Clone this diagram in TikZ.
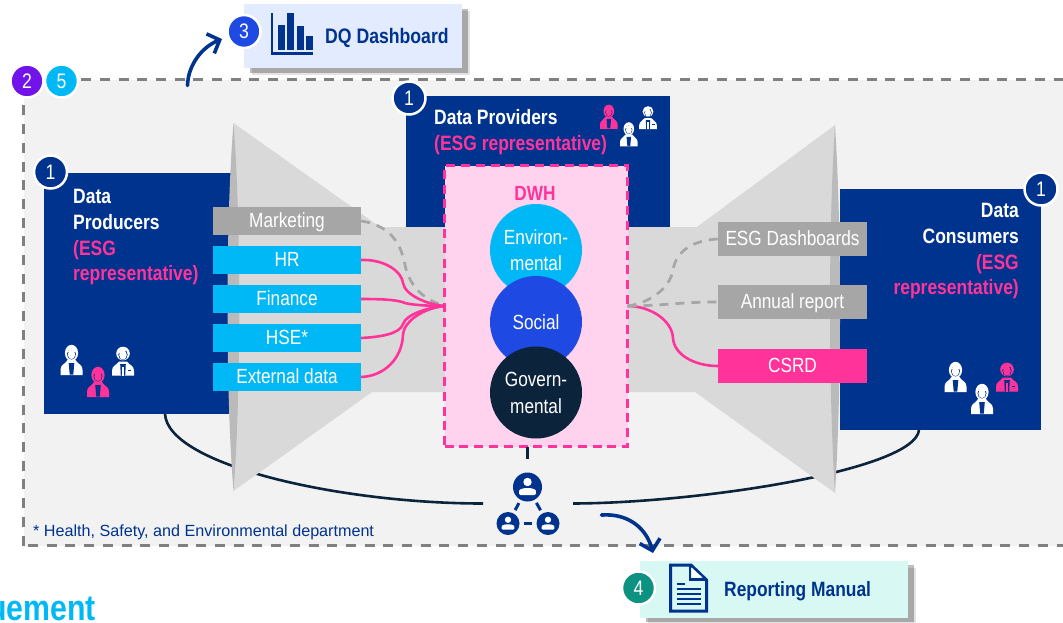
\documentclass[tikz,border=0pt]{standalone}
\usepackage{fontspec}
\setmainfont[FakeStretch=0.84]{Liberation Sans}
\newfontfamily\notefont{Liberation Sans}
\usepackage{xcolor}
\usetikzlibrary{arrows.meta,positioning,calc,shapes,backgrounds,shadows}

\definecolor{navy}{HTML}{00338D}
\definecolor{skyc}{HTML}{00B8F5}
\definecolor{hotp}{HTML}{FF3399}
\definecolor{midg}{HTML}{A6A6A6}
\definecolor{bandg}{HTML}{D9D9D9}
\definecolor{leng}{HTML}{BABABA}
\definecolor{paleg}{HTML}{F2F2F2}
\definecolor{inkb}{HTML}{0C233C}
\definecolor{royal}{HTML}{1E49E2}
\definecolor{violet2}{HTML}{7213EA}
\definecolor{teal2}{HTML}{0C9280}
\definecolor{pinkbg}{HTML}{FFD3EE}
\definecolor{dqbg}{HTML}{E3ECFE}
\definecolor{manbg}{HTML}{D8F8F3}

\newcommand{\fnt}[1]{\fontsize{#1}{#1}\selectfont}

\tikzset{
    pics/womanicon/.style={code={
        \fill[#1] (0,8) ellipse (6.6 and 8.2);
        \fill[navy] (0,9.2) ellipse (4.5 and 5.4);
        \fill[#1] (0,9.5) ellipse (3.7 and 4.6);
        \fill[#1] (-4.5,7) .. controls (-2,2.5) and (3,2.5) .. (4.5,7) -- (0,6.5) -- cycle;
        \fill[#1] (-11,30) -- (-11,24.5) .. controls (-11,19.5) and (-6,19) .. (-4,15) -- (4,15) .. controls (6,19) and (11,19.5) .. (11,24.5) -- (11,30) -- cycle;
        \fill[navy] (-2.8,18) -- (2.8,18) -- (1.8,29.5) -- (-1.8,29.5) -- cycle;
    }},
    pics/manicon/.style={code={
        \fill[#1] (0,7.5) circle (6.8);
        \fill[navy] (0,8.6) ellipse (4.7 and 5.6);
        \fill[#1] (0,9) ellipse (3.8 and 4.7);
        \fill[#1] (-4.6,7.5) .. controls (-2,7) and (2,6) .. (3.5,4) -- (4.8,8) -- (4,2) -- (-3,2) -- cycle;
        \fill[#1] (-11,29.5) -- (-11,24.5) .. controls (-11,19.5) and (-6,19) .. (-4,15.5) -- (4,15.5) .. controls (6,19) and (11,19.5) .. (11,24.5) -- (11,29.5) -- cycle;
        \fill[navy] (-2.8,18) -- (2.8,18) -- (2.2,29.5) -- (-2.2,29.5) -- cycle;
        \fill[#1] (-0.9,20.5) rectangle (0.9,29.5);
        \fill[navy] (5.2,23.5) rectangle (8.2,24.3);
    }},
    pics/netuser/.style={code={
        \fill[white] (0,-5*#1) circle (4.2*#1);
        \fill[white,rounded corners=1.5*#1] (-8.5*#1,8*#1) -- (-8.5*#1,5*#1) .. controls (-8*#1,2*#1) and (-3*#1,1*#1) .. (0,1*#1) .. controls (3*#1,1*#1) and (8*#1,2*#1) .. (8.5*#1,5*#1) -- (8.5*#1,8*#1) -- cycle;
    }},
    badge/.style={circle, draw=white, line width=2.5pt, minimum size=33pt, inner sep=0pt, text=white, font=\fnt{21}},
    bluebox/.style={fill=navy, draw=none, inner sep=0pt, anchor=north west},
    lbl/.style={minimum width=148pt, minimum height=28pt, inner sep=0pt, text=white, text height=16pt, text depth=4pt, font=\fnt{20.5}},
    lblr/.style={minimum width=149pt, minimum height=34pt, inner sep=0pt, text=white, text height=16pt, text depth=4pt, font=\fnt{20.5}},
    ball/.style={circle, minimum size=92pt, inner sep=0pt, text=white, align=center, font=\fnt{20.5}},
    txt/.style={inner sep=0pt, font=\fnt{20.8}\bfseries, text=white},
    pinkline/.style={draw=hotp, line width=2.6pt},
    greydash/.style={draw=midg, line width=2.7pt, dash pattern=on 9pt off 7pt},
    darkline/.style={draw=inkb, line width=2.6pt},
    bigarrow/.style={draw=navy, line width=3.6pt, line cap=round, -{Straight Barb[length=10pt,width=21pt]}},
    softshadow/.style={drop shadow={shadow xshift=8pt, shadow yshift=-7pt, fill=black, opacity=0.11}, drop shadow={shadow xshift=5.5pt, shadow yshift=-4.5pt, fill=black, opacity=0.26}},
}

\begin{document}
\begin{tikzpicture}[x=1pt, y=-1pt]
    \useasboundingbox (0,0) rectangle (1063,622);
    \clip (0,0) rectangle (1063,622);

    % Dashed frame
    \fill[paleg] (23.5,79.5) rectangle (1080,545.5);
    \draw[draw=black!50, line width=2.5pt, dash pattern=on 10pt off 8.7pt] (23.5,545.5) -- (23.5,79.5) -- (1080,79.5);
    \draw[draw=black!50, line width=2.5pt, dash pattern=on 10pt off 8.7pt] (28,545.5) -- (1080,545.5);

    % Blue boxes
    \node[bluebox, minimum width=187pt, minimum height=241pt] (producers) at (44,173) {};
    \node[bluebox, minimum width=264pt, minimum height=135pt] (providers) at (406,96) {};
    \node[bluebox, minimum width=201pt, minimum height=241pt] (consumers) at (840,189) {};

    % Governance curve
    \coordinate (curveA) at (165,414);
    \coordinate (curveB) at (483,503.5);
    \coordinate (curveC) at (573,503.5);
    \coordinate (curveD) at (919,430);
    \draw[darkline] (curveA) .. controls (168,465) and (340,503.5) .. (curveB);
    \draw[darkline] (curveC) .. controls (700,503) and (915,470) .. (curveD);

    % Funnels
    \fill[bandg] (233.5,123) -- (380,227) -- (697,227) -- (835,125) -- (835,493) -- (695,392) -- (372,392) -- (233.5,491) -- cycle;
    \fill[leng] (233.5,123) .. controls (225.5,220) and (225.5,395) .. (233.5,491) .. controls (241.2,395) and (241.2,220) .. cycle;
    \fill[leng] (835,125) .. controls (828.3,230) and (828.3,385) .. (835,493) .. controls (841.7,385) and (841.7,230) .. cycle;

    % DWH
    \node[fill=pinkbg, draw=hotp, line width=2.8pt, dash pattern=on 9pt off 5.8pt, inner sep=0pt, outer sep=0pt, minimum width=183pt, minimum height=281pt, anchor=north west] (dwh) at (444.5,165.5) {};
    \node[text=hotp, font=\fnt{20.5}\bfseries, inner sep=0pt] (dwhtitle) at (535,193) {DWH};
    \node[ball, fill=skyc] (environ) at (536,250) {Environ-\\[5pt]mental};
    \node[ball, fill=royal] (social) at (536,322) {Social};
    \node[ball, fill=inkb] (govern) at (536,392.5) {Govern-\\[6.5pt]mental};

    % Left labels
    \node[lbl, fill=midg] (marketing) at (287,221) {Marketing};
    \node[lbl, fill=skyc] (hr) at (287,260) {HR};
    \node[lbl, fill=skyc] (finance) at (287,299) {Finance};
    \node[lbl, fill=skyc] (hse) at (287,338) {HSE*};
    \node[lbl, fill=skyc] (external) at (287,377) {External data};

    % Right labels
    \node[lblr, fill=midg] (dashboards) at (792.5,239) {ESG Dashboards};
    \node[lblr, fill=midg] (annual) at (792.5,302) {Annual report};
    \node[lblr, fill=hotp] (csrd) at (792.5,366) {CSRD};

    % Flows
    \coordinate (dwhin) at (444.5,306);
    \coordinate (dwhout) at (627.5,306);
    \draw[greydash] (marketing.east) .. controls (395,226) and (402,250) .. (405,265) .. controls (410,288) and (425,300) .. (dwhin);
    \draw[pinkline] (hr.east) .. controls (385,259) and (402,272) .. (403,283) .. controls (405,296) and (430,305) .. (dwhin);
    \draw[pinkline] (finance.east) .. controls (385,299) and (398,300) .. (405,303) .. controls (412,305) and (430,306) .. (dwhin);
    \draw[pinkline] (hse.east) .. controls (380,337) and (400,334) .. (403,324) .. controls (406,314) and (430,307) .. (dwhin);
    \draw[pinkline] (external.east) .. controls (385,376) and (402,358) .. (403,335) .. controls (404,320) and (425,308) .. (dwhin);
    \draw[pinkline] (dwhout) .. controls (650,306) and (672,320) .. (673,338) .. controls (674,355) and (695,366) .. (csrd.west);
    \draw[greydash] (dwhout) .. controls (650,303) and (670,288) .. (673,270) .. controls (676,250) and (695,240) .. (dashboards.west);
    \draw[greydash] (dwhout) .. controls (660,306) and (680,302) .. (annual.west);

    % Box texts
    \node[txt, align=left, anchor=north west] (prodtext) at (73,189) {Data\\[5pt]Producers\\[5pt]\textcolor{hotp}{(ESG}\\[5pt]\textcolor{hotp}{representative)}};
    \node[txt, align=left, anchor=north west] (provtext) at (434,109.5) {Data Providers\\[5pt]\textcolor{hotp}{(ESG representative)}};
    \node[txt, align=right, anchor=north east] (constext) at (1019,203) {Data\\[5pt]Consumers\\[5pt]\textcolor{hotp}{(ESG}\\[5pt]\textcolor{hotp}{representative)}};

    % People
    \pic at (71.5,345) {womanicon=white};
    \pic at (123,346) {manicon=white};
    \pic at (98,367) {womanicon=hotp};
    \begin{scope}[x=0.8pt, y=-0.8pt]
        \pic at (761,131) {womanicon=hotp};
        \pic at (810,132) {manicon=white};
        \pic at (786,153) {womanicon=white};
    \end{scope}
    \pic at (955.5,362) {womanicon=white};
    \pic at (1007,362) {manicon=hotp};
    \pic at (982,384) {womanicon=white};

    % Badges
    \node[badge, fill=violet2] (two) at (27,81) {2};
    \node[badge, fill=skyc] (five) at (61.5,81) {5};
    \node[badge, fill=navy] (oneprod) at (50.5,172) {1};
    \node[badge, fill=navy] (oneprov) at (409,98) {1};
    \node[badge, fill=navy] (onecons) at (1041,189) {1};

    % DQ dashboard
    \node[fill=dqbg, minimum width=218pt, minimum height=64pt, inner sep=0pt, anchor=north west, softshadow] (dqbox) at (244,4) {};
    \node[badge, fill=royal] (three) at (244,31.5) {3};
    \fill[navy] (278,25) rectangle (285,49.5);
    \fill[navy] (287,13) rectangle (294,49.5);
    \fill[navy] (297,26) rectangle (304,49.5);
    \fill[navy] (306,36) rectangle (313,49.5);
    \draw[draw=navy, line width=2.6pt] (272,13) -- (272,53.5) -- (313,53.5);
    \node[text=navy, font=\fnt{21}\bfseries, inner sep=0pt, anchor=base west] (dqtext) at (325,43) {DQ Dashboard};
    \coordinate (dqfrom) at (187.5,85.5);
    \coordinate (dqto) at (222,39);
    \draw[bigarrow] (dqfrom) .. controls (188,65) and (202,47) .. (dqto);

    % Network
    \node[circle, fill=navy, minimum size=29pt, inner sep=0pt] (nettop) at (527.5,487) {};
    \node[circle, fill=navy, minimum size=23pt, inner sep=0pt] (netleft) at (508,523.5) {};
    \node[circle, fill=navy, minimum size=23pt, inner sep=0pt] (netright) at (548,523.5) {};
    \pic at (nettop) {netuser=1};
    \pic at (netleft) {netuser=0.75};
    \pic at (netright) {netuser=0.75};
    \draw[draw=navy, line width=3pt, shorten <=3.5pt, shorten >=3.5pt] (nettop) -- (netleft);
    \draw[draw=navy, line width=3pt, shorten <=3.5pt, shorten >=3.5pt] (nettop) -- (netright);
    \draw[draw=navy, line width=3pt, shorten <=4.5pt, shorten >=4.5pt] (netleft) -- (netright);
    \coordinate (stubend) at (527.5,459);
    \draw[darkline] (stubend |- dwh.south) -- (stubend);

    % Reporting manual
    \node[fill=manbg, minimum width=268pt, minimum height=57pt, inner sep=0pt, anchor=north west, softshadow] (manualbox) at (640,560.5) {};
    \node[badge, fill=teal2] (four) at (638.5,588) {4};
    \draw[draw=navy, line width=3pt, line join=miter] (670.5,565) -- (691,565) -- (706.5,580) -- (706.5,611) -- (670.5,611) -- cycle;
    \draw[draw=navy, line width=2.5pt] (690,565) -- (690,579.5) -- (706,579.5);
    \fill[white] (692,568) -- (692,577.5) -- (702.5,577.5) -- cycle;
    \fill[navy] (676.5,582.5) rectangle (685,584.7);
    \foreach \ypos in {587.5,592.5,597.5,602.5}
        \fill[navy] (676.5,\ypos) rectangle (701,\ypos+2.2);
    \node[text=navy, font=\fnt{20.7}\bfseries, inner sep=0pt, anchor=base west] (manualtext) at (724,596) {Reporting Manual};
    \coordinate (manfrom) at (601.5,515);
    \coordinate (manto) at (653,553);
    \draw[bigarrow] (manfrom) .. controls (630,513) and (647,530) .. (manto);

    % Footnote
    \node[text=navy, font=\notefont\fontsize{16.15}{16}\selectfont, inner sep=0pt, anchor=base west] (footnote) at (33,536) {* Health, Safety, and Environmental department};
    \node[text=skyc, font=\fnt{36}\bfseries, inner sep=0pt, anchor=base east] (cuttitle) at (96,620) {uement};
\end{tikzpicture}
\end{document}
